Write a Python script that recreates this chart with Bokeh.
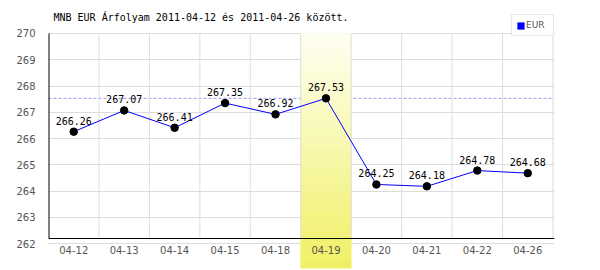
from bokeh.plotting import figure
from bokeh.models import (LinearAxis, FixedTicker, Span, Legend, LegendItem, Range1d, Label)
from bokeh.embed import file_html
from bokeh.resources import INLINE
from bokeh.core.properties import value

# ---- data ----
dates = ["04-12", "04-13", "04-14", "04-15", "04-18", "04-19", "04-20", "04-21", "04-22", "04-26"]
rates = [266.26, 267.07, 266.41, 267.35, 266.92, 267.53, 264.25, 264.18, 264.78, 264.68]
y_ticks = [262, 263, 264, 265, 266, 267, 268, 269, 270]
highlight = "04-19"
series_name = "EUR"
title_text = "MNB EUR Árfolyam 2011-04-12 és 2011-04-26 között."

# ---- layout constants ----
xs = list(range(len(dates)))
y_top = max(y_ticks)
y_lo, y_hi = 261.05, 270.952
axis_y = 262.19
grid_col = "#dddddd"
lab_col = "#555555"

p = figure(width=600, height=270, output_backend="svg", toolbar_location=None,
           x_range=Range1d(-0.5, len(dates) - 0.47), y_range=Range1d(y_lo, y_hi),
           x_axis_location=None, min_border_left=48, min_border_right=46,
           min_border_top=8, min_border_bottom=2)
p.outline_line_color = None
p.background_fill_color = "white"
p.border_fill_color = "white"

# grids
p.xgrid.visible = False
p.ygrid.ticker = FixedTicker(ticks=y_ticks)
p.ygrid.grid_line_color = grid_col

# y labels axis
ya = p.yaxis[0]
ya.ticker = FixedTicker(ticks=y_ticks)
ya.axis_line_color = None
ya.major_tick_line_color = None
ya.minor_tick_line_color = None
ya.major_label_standoff = 7
ya.major_label_text_font = "DejaVu Sans"
ya.major_label_text_font_size = "10px"
ya.major_label_text_color = lab_col

# max dashed line (under the band)
p.add_layout(Span(location=max(rates), dimension="width", line_color="#9a9aee",
                  line_dash="3 2", line_width=1, level="underlay"))

# highlighted band with vertical gradient
idx = dates.index(highlight)
N = 60
top_c = (255, 255, 242)
bot_c = (240, 240, 100)
bands_b, bands_t, cols = [], [], []
for k in range(N):
    b = y_lo + (y_top - y_lo) * k / N
    t = y_lo + (y_top - y_lo) * (k + 1) / N
    f = (k + 0.5) / N
    c = tuple(int(round(bot_c[j] + (top_c[j] - bot_c[j]) * f)) for j in range(3))
    bands_b.append(b); bands_t.append(t); cols.append("#%02x%02x%02x" % c)
p.quad(left=idx - 0.5, right=idx + 0.5, bottom=bands_b, top=bands_t,
       fill_color=cols, line_color=cols, line_width=0.6)

# vertical grid lines at category boundaries
gx = [i + 0.5 for i in range(len(dates))]
p.segment(x0=gx, y0=axis_y, x1=gx, y1=y_top, line_color=grid_col, line_width=1)

# y axis line (from x axis up to top tick)
p.segment(x0=[-0.5], y0=[axis_y], x1=[-0.5], y1=[y_top], line_color="black", line_width=2)

# series
p.line(xs, rates, line_color="#0000ff", line_width=1)
p.scatter(xs, rates, size=7.5, fill_color="black", line_color="black")
p.text(xs, rates, text=[f"{v:.2f}" for v in rates], text_font=value("DejaVu Sans Mono"),
       text_font_size="10px", text_align="center", text_baseline="bottom",
       text_color="black", y_offset=-7)

# x axis at fixed location
xa = LinearAxis(fixed_location=axis_y, ticker=FixedTicker(ticks=xs),
                major_label_overrides={i: d for i, d in zip(xs, dates)},
                axis_line_color="black", major_tick_line_color=None, minor_tick_line_color=None,
                major_label_standoff=1, major_label_text_font="DejaVu Sans",
                major_label_text_font_size="10px", major_label_text_color=lab_col)
p.add_layout(xa, "below")

# title (white box behind it, as in the original)
p.add_layout(Label(x=0, y=248, x_units="screen", y_units="screen", text=title_text,
                   text_font="DejaVu Sans Mono", text_font_size="10px", text_color="black",
                   text_baseline="middle", text_align="left",
                   background_fill_color="white", background_fill_alpha=1.0,
                   padding=dict(left=5, right=2, top=2, bottom=8)))

# legend (zero-size swatch renderer at the first point, only used for the legend glyph)
r_leg = p.quad(left=[xs[0]], right=[xs[0]], top=[rates[0]], bottom=[rates[0]],
               fill_color="#0000ff", line_color=None)
legend = Legend(items=[LegendItem(label=series_name, renderers=[r_leg])],
                location=(463, 232), padding=4, spacing=0, margin=0,
                glyph_width=9, glyph_height=9, label_standoff=1, label_height=12, label_width=23,
                label_text_font="DejaVu Sans", label_text_font_size="9px", label_text_color=lab_col,
                border_line_color="#d0d0d0", background_fill_color="white", background_fill_alpha=1)
p.add_layout(legend, "center")

open("out.html", "w").write(file_html(p, INLINE))
